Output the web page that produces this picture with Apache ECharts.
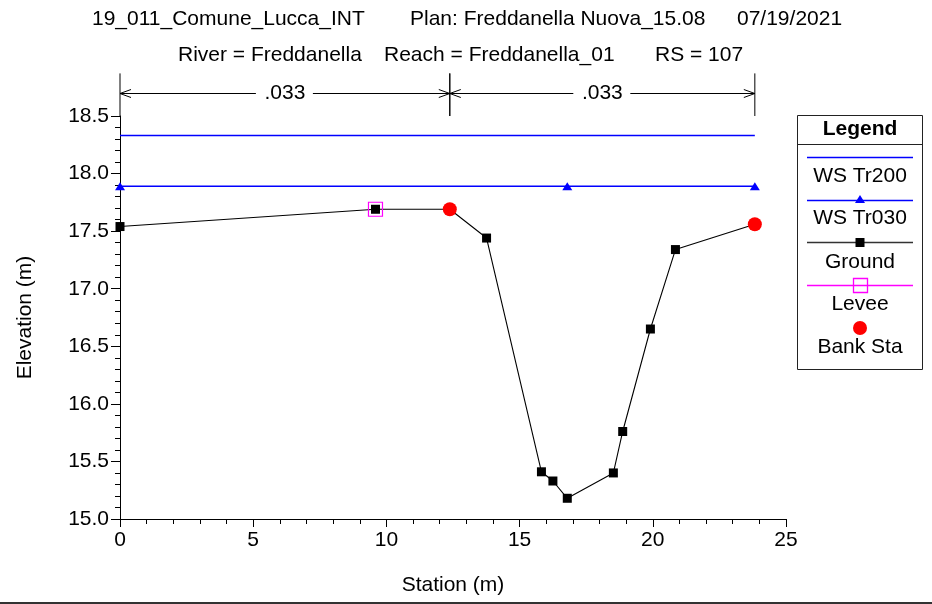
<!DOCTYPE html>
<html>
<head>
<meta charset="utf-8">
<script src="https://cdn.jsdelivr.net/npm/echarts@6/dist/echarts.min.js"></script>
<style>
html,body{margin:0;padding:0;background:#fff;}
#chart{width:932px;height:604px;}
</style>
</head>
<body>
<div id="chart"></div>
<script>
// ---- data ----
var groundX = [0, 9.59, 12.38, 13.76, 15.82, 16.25, 16.79, 18.52, 18.87, 19.91, 20.85, 23.83];
var groundY = [17.54, 17.69, 17.69, 17.44, 15.41, 15.33, 15.18, 15.40, 15.76, 16.65, 17.34, 17.56];
var leveeX = [9.59];
var leveeY = [17.69];
var bankX = [12.38, 23.83];
var bankY = [17.69, 17.56];
var wsTr200X = [0, 23.83];
var wsTr200Y = [18.33, 18.33];
var wsTr030X = [0, 16.79, 23.83];
var wsTr030Y = [17.89, 17.89, 17.89];
var nBreaks = [0, 12.38, 23.83];
var nValues = ['.033', '.033'];
var nArrowElev = 18.70;
var nBarTop = 18.87;
var nBarBottom = 18.5;
var xTicks = [0, 25, 5];
var yTicks = [15, 18.5, 0.5];
var titleLine1 = ['19_011_Comune_Lucca_INT', 'Plan: Freddanella Nuova_15.08', '07/19/2021'];
var titleLine2 = ['River = Freddanella', 'Reach = Freddanella_01', 'RS = 107'];
var legendNames = ['WS Tr200', 'WS Tr030', 'Ground', 'Levee', 'Bank Sta'];

function zip(a, b) { return a.map(function (v, i) { return [v, b[i]]; }); }

var FONT = 'Liberation Sans, Arial, Helvetica, sans-serif';
var FS = 21;
var nData = nValues.map(function (t, i) { return [nBreaks[i], nBreaks[i + 1]]; });

var chart = echarts.init(document.getElementById('chart'), null, {renderer: 'canvas'});

function txt(s, x, y, opts) {
  return {type: 'text', x: x, y: y, z: 10, style: {text: s, fill: '#000',
    font: (opts && opts.bold ? 'bold ' : '') + FS + 'px ' + FONT,
    align: (opts && opts.align) || 'left', verticalAlign: 'middle'}};
}

var graphics = [
  txt(titleLine1[0], 92, 19), txt(titleLine1[1], 410, 19), txt(titleLine1[2], 737, 19),
  txt(titleLine2[0], 178, 55), txt(titleLine2[1], 384, 55), txt(titleLine2[2], 655, 55),
  {type: 'rect', z: 5, shape: {x: 797.5, y: 115.5, width: 125, height: 254}, style: {fill: '#fff', stroke: '#222', lineWidth: 1}},
  {type: 'line', z: 6, shape: {x1: 797, y1: 144.5, x2: 923, y2: 144.5}, style: {stroke: '#222', lineWidth: 1}},
  txt('Legend', 860, 129, {bold: true, align: 'center'}),
  {type: 'line', z: 6, shape: {x1: 807, y1: 157.5, x2: 913, y2: 157.5}, style: {stroke: '#0000ff', lineWidth: 1.3}},
  txt(legendNames[0], 860, 176, {align: 'center'}),
  {type: 'line', z: 6, shape: {x1: 807, y1: 200.5, x2: 913, y2: 200.5}, style: {stroke: '#0000ff', lineWidth: 1.3}},
  {type: 'polygon', z: 7, shape: {points: [[860, 195], [865, 203], [855, 203]]}, style: {fill: '#0000ff'}},
  txt(legendNames[1], 860, 218, {align: 'center'}),
  {type: 'line', z: 6, shape: {x1: 807, y1: 242.5, x2: 913, y2: 242.5}, style: {stroke: '#333', lineWidth: 1.3}},
  {type: 'rect', z: 7, shape: {x: 855.5, y: 238, width: 9, height: 9}, style: {fill: '#000'}},
  txt(legendNames[2], 860, 262, {align: 'center'}),
  {type: 'line', z: 6, shape: {x1: 807, y1: 285.5, x2: 913, y2: 285.5}, style: {stroke: '#ff00ff', lineWidth: 1.3}},
  {type: 'rect', z: 7, shape: {x: 853.5, y: 278.5, width: 14, height: 14}, style: {fill: 'none', stroke: '#ff00ff', lineWidth: 1.3}},
  txt(legendNames[3], 860, 304, {align: 'center'}),
  {type: 'circle', z: 7, shape: {cx: 860, cy: 328, r: 7}, style: {fill: '#ff0000'}},
  txt(legendNames[4], 860, 347, {align: 'center'}),
  {type: 'rect', z: 7, shape: {x: 0, y: 602, width: 932, height: 2}, style: {fill: '#333'}}
];

function renderN(params, api) {
  var x0 = api.value(0), x1 = api.value(1), label = nValues[params.dataIndex];
  var a = api.coord([x0, nArrowElev]);
  var b = api.coord([x1, nArrowElev]);
  var top0 = api.coord([x0, nBarTop]), bot0 = api.coord([x0, nBarBottom]);
  var top1 = api.coord([x1, nBarTop]), bot1 = api.coord([x1, nBarBottom]);
  var y = Math.round(a[1]) + 0.5;
  var mid = (a[0] + b[0]) / 2;
  var st = {stroke: '#000', lineWidth: 1, fill: 'none'};
  var L = 11, H = 4;
  return {
    type: 'group',
    children: [
      {type: 'line', shape: {x1: top0[0], y1: top0[1], x2: bot0[0], y2: bot0[1]}, style: st},
      {type: 'line', shape: {x1: top1[0], y1: top1[1], x2: bot1[0], y2: bot1[1]}, style: st},
      {type: 'line', shape: {x1: a[0], y1: y, x2: mid - 29, y2: y}, style: st},
      {type: 'line', shape: {x1: mid + 28, y1: y, x2: b[0], y2: y}, style: st},
      {type: 'polyline', shape: {points: [[a[0] + L, y - H], [a[0], y], [a[0] + L, y + H]]}, style: st},
      {type: 'polyline', shape: {points: [[b[0] - L, y - H], [b[0], y], [b[0] - L, y + H]]}, style: st},
      {type: 'text', x: mid, y: y, style: {text: label, fill: '#000', font: FS + 'px ' + FONT, align: 'center', verticalAlign: 'middle'}}
    ]
  };
}

var option = {
  animation: false,
  backgroundColor: '#fff',
  textStyle: {fontFamily: FONT},
  grid: {left: 120, right: 146, top: 116, bottom: 85, containLabel: false},
  xAxis: {
    type: 'value', min: xTicks[0], max: xTicks[1], interval: xTicks[2],
    name: 'Station (m)', nameLocation: 'middle', nameGap: 56,
    nameTextStyle: {fontSize: FS, color: '#000', fontFamily: FONT},
    axisLine: {onZero: false, lineStyle: {color: '#000', width: 1}},
    axisTick: {show: true, inside: false, length: 8, lineStyle: {color: '#000'}},
    minorTick: {show: true, splitNumber: 5, length: 5, lineStyle: {color: '#000'}},
    axisLabel: {fontSize: FS, color: '#000', margin: 11, fontFamily: FONT},
    splitLine: {show: false}
  },
  yAxis: {
    type: 'value', min: yTicks[0], max: yTicks[1], interval: yTicks[2],
    name: 'Elevation (m)', nameLocation: 'middle', nameGap: 84, nameRotate: 90,
    nameTextStyle: {fontSize: FS, color: '#000', fontFamily: FONT},
    axisLine: {show: true, onZero: false, lineStyle: {color: '#000', width: 1}},
    axisTick: {show: true, inside: false, length: 9, lineStyle: {color: '#000'}},
    minorTick: {show: true, splitNumber: 5, length: 5, lineStyle: {color: '#000'}},
    axisLabel: {fontSize: FS, color: '#000', margin: 11, fontFamily: FONT, formatter: function (v) { return v.toFixed(1); }},
    splitLine: {show: false}
  },
  series: [
    {name: 'WS Tr200', type: 'line', data: zip(wsTr200X, wsTr200Y), showSymbol: false, symbol: 'none',
      lineStyle: {color: '#0000ff', width: 1.4}, itemStyle: {color: '#0000ff'}, z: 3},
    {name: 'WS Tr030', type: 'line', data: zip(wsTr030X, wsTr030Y), symbol: 'triangle', symbolSize: [10, 8],
      lineStyle: {color: '#0000ff', width: 1.4}, itemStyle: {color: '#0000ff'}, z: 3},
    {name: 'Ground', type: 'line', data: zip(groundX, groundY), symbol: 'rect', symbolSize: 9,
      lineStyle: {color: '#000', width: 1.1}, itemStyle: {color: '#000'}, z: 4},
    {name: 'Levee', type: 'scatter', data: zip(leveeX, leveeY), symbol: 'rect', symbolSize: 14,
      itemStyle: {color: 'rgba(0,0,0,0)', borderColor: '#ff00ff', borderWidth: 1.2, opacity: 1}, z: 5},
    {name: 'Bank Sta', type: 'scatter', data: zip(bankX, bankY), symbol: 'circle', symbolSize: 14,
      itemStyle: {color: '#ff0000', borderColor: '#ff0000', borderWidth: 0, opacity: 1}, z: 10},
    {name: 'n', type: 'custom', data: nData, renderItem: renderN, clip: false, silent: true,
      encode: {x: [0, 1]}, z: 2}
  ],
  graphic: graphics
};
chart.setOption(option);
</script>
</body>
</html>
